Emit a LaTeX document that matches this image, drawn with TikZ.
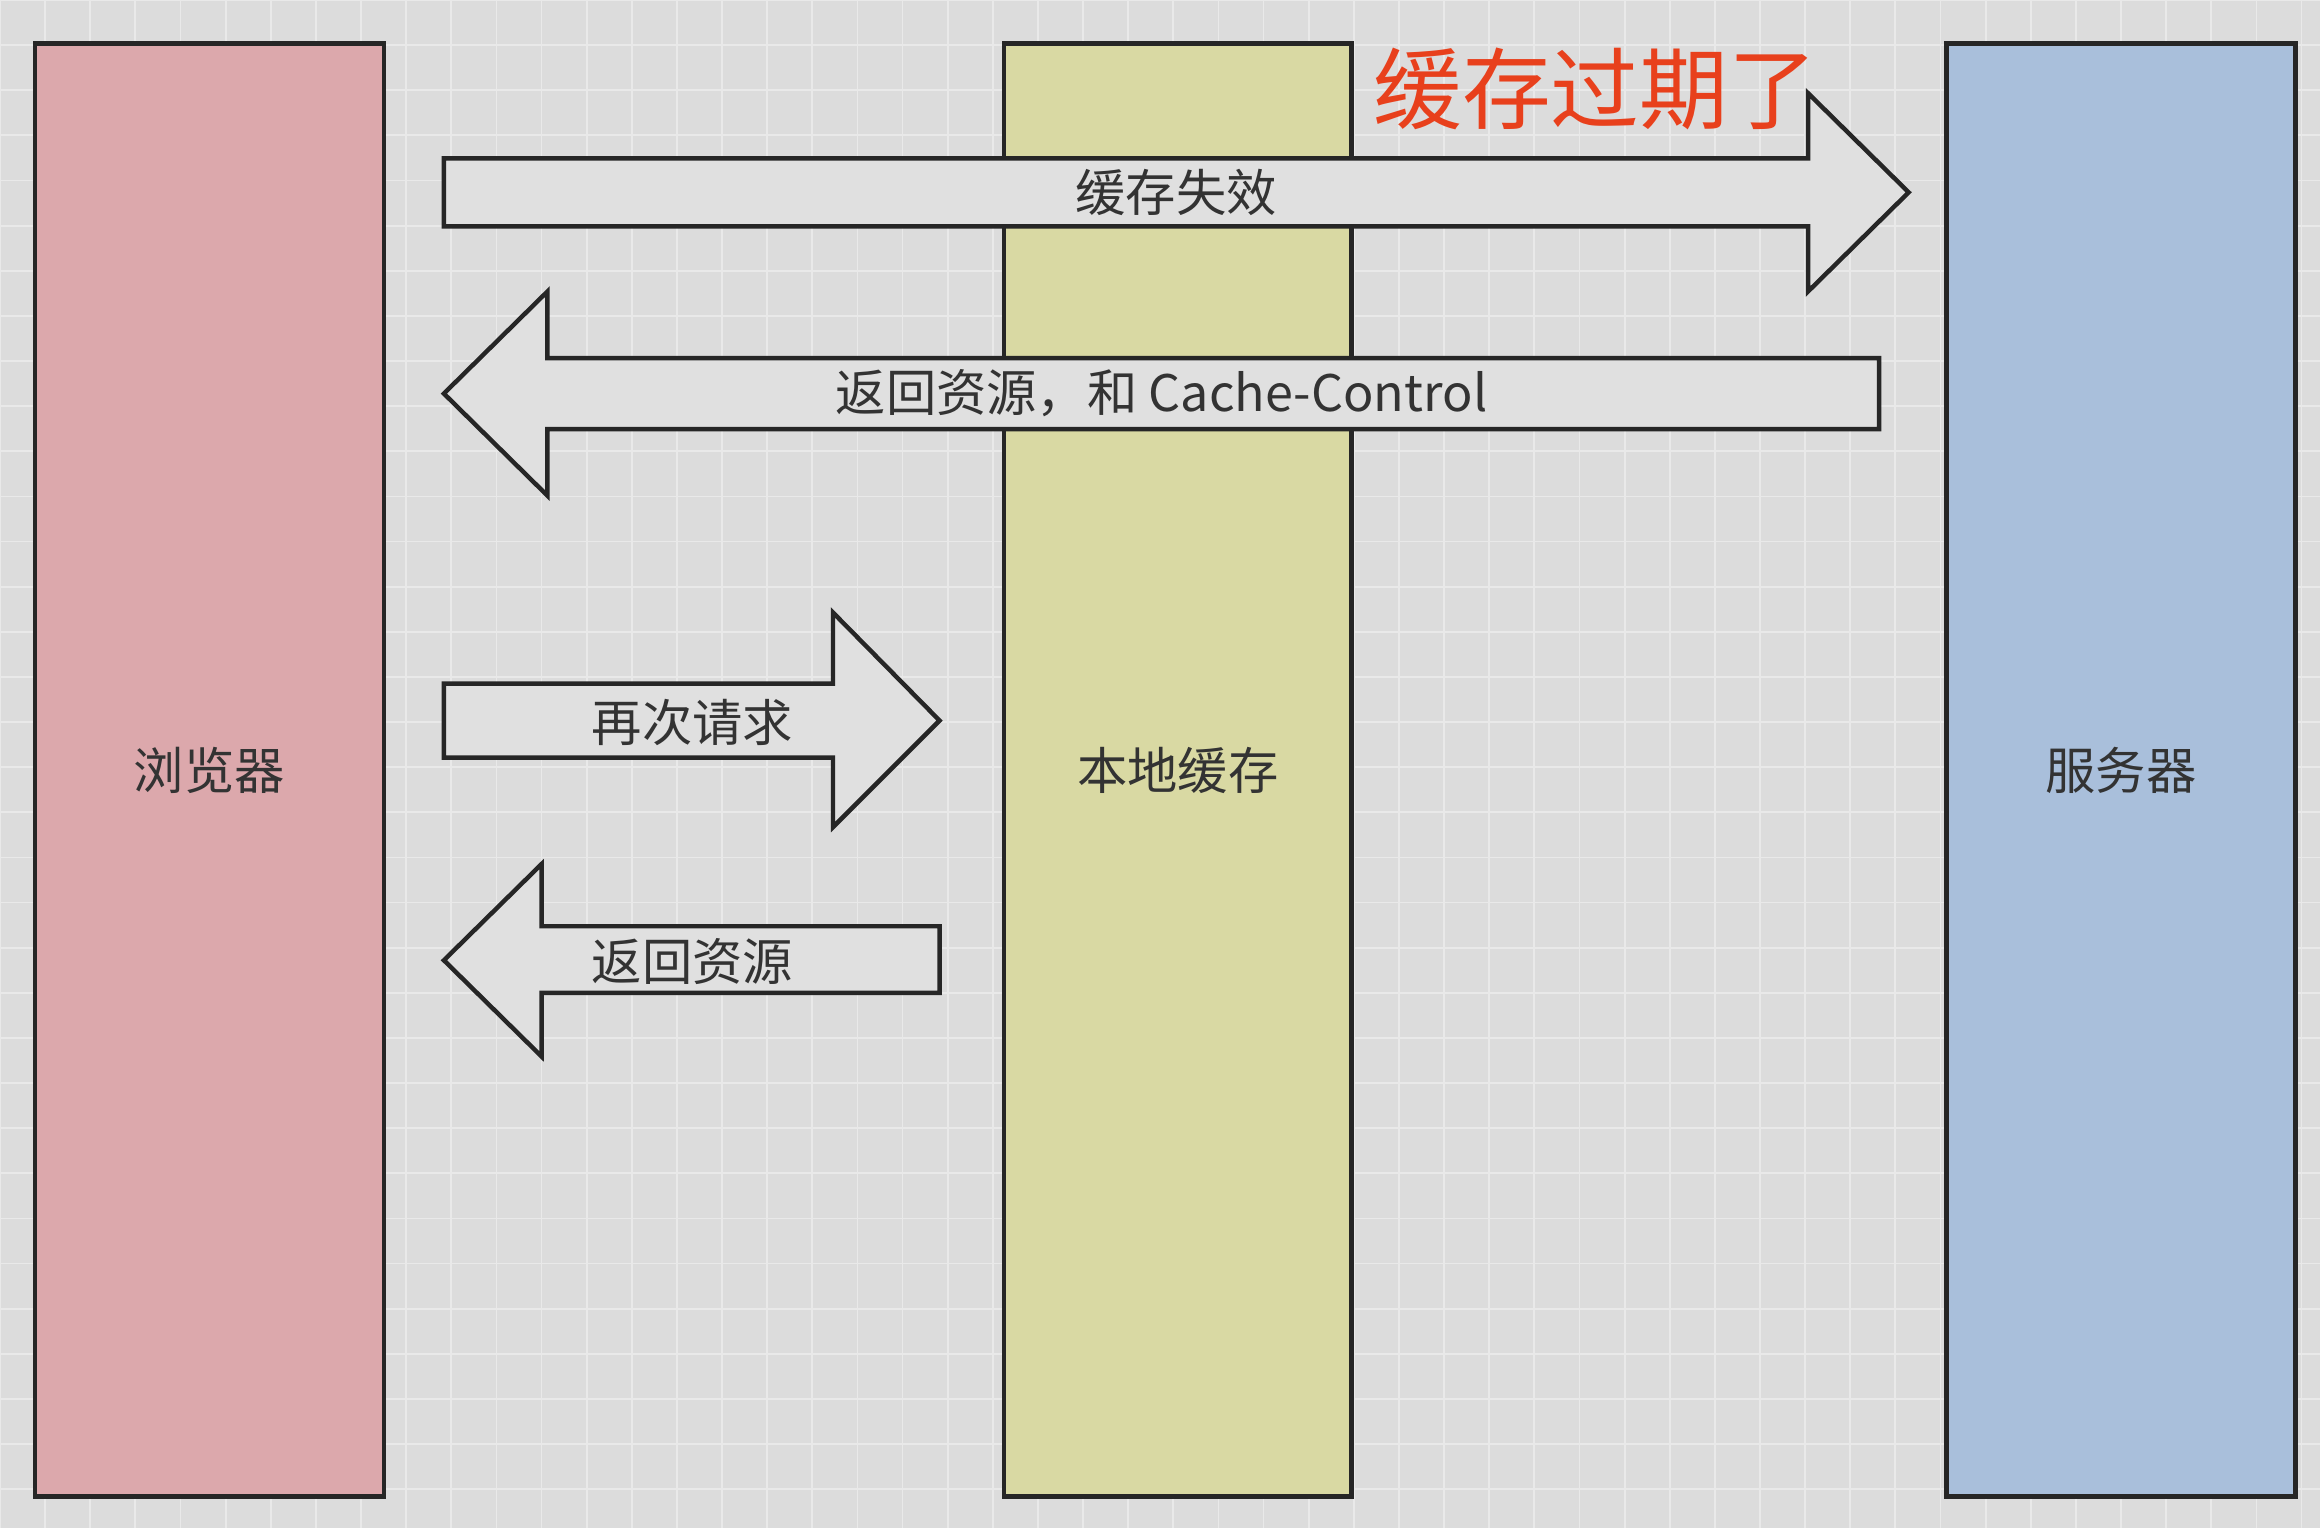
\documentclass[tikz,border=0pt]{standalone}
\usepackage{fontspec}
\newfontfamily\cjk{Noto Sans CJK SC}
\definecolor{bg}{HTML}{DCDCDC}
\definecolor{gridc}{HTML}{E9E9E9}
\definecolor{pinkc}{HTML}{DCA8AC}
\definecolor{yelc}{HTML}{D9D9A3}
\definecolor{bluec}{HTML}{A9BFDB}
\definecolor{arrc}{HTML}{E0E0E0}
\definecolor{redc}{HTML}{E8401C}
\definecolor{txtc}{HTML}{333333}
\tikzset{
  col/.style={draw=black!85,line width=3pt,anchor=north west,inner sep=0pt},
  arr/.style={draw=black!85,fill=arrc,line width=3pt,line join=miter},
  lbl/.style={font=\cjk\fontsize{34}{38}\selectfont,text=txtc,inner sep=0pt},
}
\begin{document}
\begin{tikzpicture}[x=1pt,y=-1pt]
\fill[bg] (0,0) rectangle (1568,1033);
\useasboundingbox (0,0) rectangle (1568,1033);
\foreach \i in {0,...,52} {\draw[gridc,line width=1.2pt] (\i*30.5,0) -- (\i*30.5,1033);}
\foreach \j in {0,...,34} {\draw[gridc,line width=1.2pt] (0,\j*30.5) -- (1568,\j*30.5);}
\node[col,fill=pinkc,minimum width=236pt,minimum height=982pt] (b) at (22,28) {};
\node[col,fill=yelc,minimum width=235pt,minimum height=982pt] (c) at (677,28) {};
\node[col,fill=bluec,minimum width=236pt,minimum height=982pt] (s) at (1314,28) {};
\node[lbl] (bt) at (b.center) {浏览器};
\node[lbl] (ct) at (c.center) {本地缓存};
\node[lbl] (st) at (s.center) {服务器};
\draw[arr] (300,107) -- (1222,107) -- (1222,63) -- (1290,130) -- (1222,197) -- (1222,153) -- (300,153) -- cycle;
\node[lbl] (a1) at (795,130) {缓存失效};
\draw[arr] (1270,242) -- (370,242) -- (370,197) -- (300,266) -- (370,335) -- (370,290) -- (1270,290) -- cycle;
\node[lbl] (a2) at (785,266) {返回资源，和 Cache-Control};
\draw[arr] (300,462) -- (563,462) -- (563,414) -- (635,487) -- (563,559) -- (563,512) -- (300,512) -- cycle;
\node[lbl] (a3) at (468,488) {再次请求};
\draw[arr] (635,626) -- (366,626) -- (366,584) -- (300,649) -- (366,714) -- (366,671) -- (635,671) -- cycle;
\node[lbl] (a4) at (468,650) {返回资源};
\node[font=\cjk\fontsize{60}{64}\selectfont,text=redc,inner sep=0pt,anchor=west] (red) at (928,60) {缓存过期了};
\end{tikzpicture}
\end{document}
